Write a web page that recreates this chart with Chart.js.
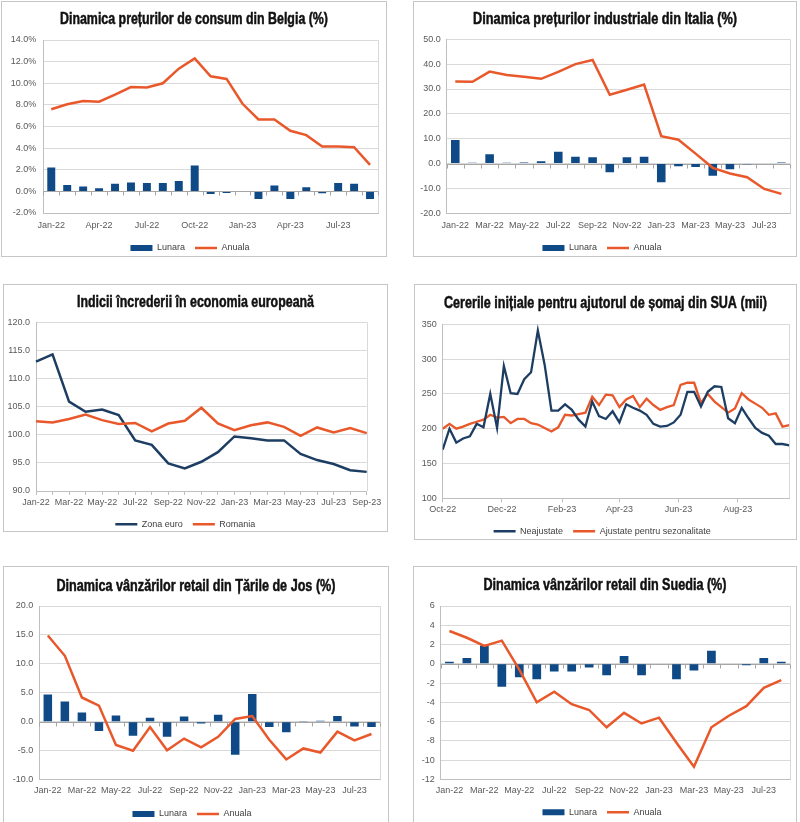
<!DOCTYPE html>
<html><head><meta charset="utf-8">
<script src="https://cdn.jsdelivr.net/npm/chart.js@4.4.0/dist/chart.umd.min.js"></script>
<style>
html,body{margin:0;padding:0;background:#fff;}
body{width:800px;height:822px;position:relative;overflow:hidden;}
.panel{position:absolute;border:1px solid #c6c6c6;box-sizing:border-box;background:#fff;}
.panel canvas{position:absolute;left:0;top:0;}
</style></head><body>
<div class="panel" style="left:1px;top:1px;width:386px;height:256px"><canvas id="c1" width="384" height="254"></canvas></div>
<div class="panel" style="left:413px;top:1px;width:384px;height:256px"><canvas id="c2" width="382" height="254"></canvas></div>
<div class="panel" style="left:3px;top:284px;width:385px;height:248px"><canvas id="c3" width="383" height="246"></canvas></div>
<div class="panel" style="left:414px;top:284px;width:383px;height:256px"><canvas id="c4" width="381" height="254"></canvas></div>
<div class="panel" style="left:3px;top:566px;width:386px;height:258px"><canvas id="c5" width="384" height="256"></canvas></div>
<div class="panel" style="left:413px;top:566px;width:384px;height:258px"><canvas id="c6" width="382" height="256"></canvas></div>
<script>
// ---------- DATA ----------
const monthsJan22Sep23 = ['Jan-22','Feb-22','Mar-22','Apr-22','May-22','Jun-22','Jul-22','Aug-22','Sep-22','Oct-22','Nov-22','Dec-22','Jan-23','Feb-23','Mar-23','Apr-23','May-23','Jun-23','Jul-23','Aug-23','Sep-23'];
const monthsJan22Aug23 = monthsJan22Sep23.slice(0, 20);

// 1. Belgia CPI
const belLunara = [2.2,0.6,0.46,0.3,0.7,0.83,0.77,0.77,0.95,2.4,-0.25,-0.15,0.04,-0.7,0.55,-0.7,0.37,-0.18,0.77,0.7,-0.7];
const belAnuala = [7.6,8.05,8.35,8.3,8.95,9.65,9.6,10.0,11.35,12.3,10.65,10.4,8.1,6.65,6.65,5.6,5.2,4.15,4.15,4.08,2.45];

// 2. Italia PPI
const itaLunara = [9.5,0.3,3.8,0.3,0.4,0.9,4.8,2.7,2.5,-3.5,2.5,2.8,-7.5,-1.1,-1.4,-4.9,-2.3,-0.3,0,0.4];
const itaAnuala = [33.0,32.9,37.0,35.6,34.9,34.1,36.9,40.0,41.7,27.7,29.7,31.8,11.0,9.6,4.0,-1.7,-4.0,-5.5,-10.2,-12.2];

// 3. Incredere
const zonaEuro = [113.0,114.3,105.9,104.1,104.5,103.5,99.0,98.2,94.9,94.0,95.2,96.9,99.7,99.4,99.0,99.0,96.6,95.5,94.8,93.7,93.4];
const romania  = [102.4,102.2,102.8,103.6,102.6,101.9,102.1,100.6,102.0,102.5,104.8,102.0,100.8,101.7,102.2,101.4,99.8,101.3,100.4,101.2,100.3];

// 4. SUA initial claims (weekly)
const claimDates = ['2022-10-01','2022-10-08','2022-10-15','2022-10-22','2022-10-29','2022-11-05','2022-11-12','2022-11-19','2022-11-26',
 '2022-12-03','2022-12-10','2022-12-17','2022-12-24','2022-12-31','2023-01-07','2023-01-14','2023-01-21','2023-01-28',
 '2023-02-04','2023-02-11','2023-02-18','2023-02-25','2023-03-04','2023-03-11','2023-03-18','2023-03-25',
 '2023-04-01','2023-04-08','2023-04-15','2023-04-22','2023-04-29','2023-05-06','2023-05-13','2023-05-20','2023-05-27',
 '2023-06-03','2023-06-10','2023-06-17','2023-06-24','2023-07-01','2023-07-08','2023-07-15','2023-07-22','2023-07-29',
 '2023-08-05','2023-08-12','2023-08-19','2023-08-26','2023-09-02','2023-09-09','2023-09-16','2023-09-23'];
const neajustate = [170,200,180,186,189,207,202,250,201,290,251,250,271,281,341,292,226,226,235,227,213,203,239,218,214,225,
 209,235,230,226,220,207,203,204,209,220,253,253,232,253,261,260,215,208,230,215,201,194,190,178,178,176];
const ajustate = [200,207,200,203,207,210,213,220,216,217,208,214,214,208,206,201,196,202,220,219,221,223,246,234,249,248,
 231,242,247,231,243,234,227,231,234,263,266,266,237,250,239,231,223,229,251,242,236,230,220,222,203,205];
const claimTickDates = ['2022-10-01','2022-12-01','2023-02-01','2023-04-01','2023-06-01','2023-08-01'];
const claimTickLabels = ['Oct-22','Dec-22','Feb-23','Apr-23','Jun-23','Aug-23'];

// 5. Tarile de Jos retail
const nlLunara = [4.7,3.5,1.6,-1.6,1.1,-2.4,0.7,-2.6,0.9,-0.3,1.2,-5.7,4.8,-0.9,-1.8,0.05,0.2,1.0,-0.8,-0.9];
const nlAnuala = [14.9,11.4,4.2,2.8,-4.0,-5.0,-0.9,-4.9,-2.9,-4.4,-2.6,0.5,1.0,-3.1,-6.5,-4.6,-5.3,-1.7,-3.2,-2.1];

// 6. Suedia retail
const seLunara = [0.2,0.6,1.9,-2.4,-1.4,-1.6,-0.8,-0.8,-0.4,-1.2,0.8,-1.2,0.05,-1.6,-0.7,1.35,0.05,-0.15,0.6,0.2];
const seAnuala = [3.4,2.7,1.85,2.4,-0.6,-4.0,-2.9,-4.2,-4.8,-6.6,-5.1,-6.2,-5.6,-8.2,-10.7,-6.6,-5.4,-4.4,-2.5,-1.7];

// ---------- STYLE ----------
const FONT = "'Liberation Sans', Arial, sans-serif";
const TFONT = "bold 16px 'Liberation Sans', Arial, sans-serif";
const BAR = '#0f4a86', ORANGE = '#e9582b', NAVY = '#1d3e62';
const GRID = '#d9d9d9', AXIS = '#bfbfbf', TICKC = '#595959';

// plot frame + zero axis ticks
const framePlugin = {
  id: 'frame',
  beforeDatasetsDraw(chart, args, opts) {
    const {ctx, chartArea: a} = chart;
    ctx.save();
    ctx.lineWidth = 1;
    ctx.strokeStyle = GRID;
    const xr = Math.round(a.right) + 0.5;
    ctx.beginPath(); ctx.moveTo(xr, a.top); ctx.lineTo(xr, a.bottom); ctx.stroke();
    if (opts && opts.zeroTicks) {
      const xs = chart.scales.x, ys = chart.scales.y;
      const y0 = Math.round(ys.getPixelForValue(0)) + 0.5;
      const n = chart.data.labels.length;
      const half = (xs.getPixelForValue(1) - xs.getPixelForValue(0)) / 2;
      ctx.strokeStyle = '#a6a6a6';
      ctx.beginPath();
      ctx.moveTo(a.left, y0); ctx.lineTo(a.right, y0);
      for (let i = 0; i <= n; i++) {
        const px = Math.round(xs.getPixelForValue(i) - half) + 0.5;
        ctx.moveTo(px, y0); ctx.lineTo(px, y0 + 4);
      }
      ctx.stroke();
    }
    ctx.restore();
  }
};
// condensed bold title (horizontally scaled real text)
const titlePlugin = {
  id: 'ctitle',
  afterDraw(chart, args, o) {
    if (!o || !o.text) return;
    const ctx = chart.ctx;
    ctx.save();
    ctx.font = TFONT;
    const w = ctx.measureText(o.text).width;
    const k = o.width / w;
    ctx.translate(chart.width / 2, o.y + 5.7);
    ctx.scale(k, 1);
    ctx.textAlign = 'center';
    ctx.textBaseline = 'alphabetic';
    ctx.fillStyle = '#111';
    ctx.strokeStyle = '#111';
    ctx.lineWidth = 0.5;
    ctx.fillText(o.text, 0, 0);
    ctx.strokeText(o.text, 0, 0);
    ctx.restore();
  }
};

function legendOpts() {
  return {position: 'bottom',
    labels: {usePointStyle: true, pointStyleWidth: 22, boxHeight: 6, padding: 10, color: '#404040',
      font: {family: FONT, size: 9}, sort: (a, b) => a.datasetIndex - b.datasetIndex}};
}
function pluginsFor(L, text, zero) {
  return {title: {display: false}, legend: legendOpts(), tooltip: {enabled: false},
    frame: {zeroTicks: !!zero}, ctitle: {text, width: L.tw, y: L.ty}};
}
function yAxis(L, min, max, step, fmt) {
  return {min, max, ticks: {stepSize: step, callback: fmt, color: TICKC, font: {family: FONT, size: 9}, padding: L.ypad},
    grid: {color: GRID, drawTicks: false},
    border: {display: true, color: AXIS},
    afterFit(s) { s.width = L.plotLeft; }};
}
function catX(L, labels, step, offset, tickLen) {
  return {type: 'category', offset,
    ticks: {autoSkip: false, maxRotation: 0, minRotation: 0, color: TICKC, font: {family: FONT, size: 9}, padding: L.xpad,
      callback: (v, i) => (i % step === 0 ? labels[i] : '')},
    grid: {display: tickLen > 0, drawOnChartArea: false, drawTicks: tickLen > 0, tickLength: tickLen, color: AXIS},
    border: {display: true, color: AXIS},
    afterFit(s) { s.height = L.xh; }};
}
function lineDs(label, data, color, extra) {
  return Object.assign({type: 'line', label, data, borderColor: color, backgroundColor: color, borderWidth: 2.5,
    pointRadius: 0, pointHoverRadius: 0, pointStyle: 'line', pointBorderColor: color, pointBorderWidth: 2.5,
    tension: 0, order: 0}, extra || {});
}
function barDs(label, data) {
  return {type: 'bar', label, data, backgroundColor: BAR, borderWidth: 0, pointStyle: 'rect',
    barPercentage: 0.5, categoryPercentage: 1.0, order: 1};
}
function barLineChart(id, L, title, labels, step, bars, line, ymin, ymax, ystep, fmt) {
  new Chart(document.getElementById(id), {
    type: 'bar',
    data: {labels, datasets: [barDs('Lunara', bars), lineDs('Anuala', line, ORANGE)]},
    options: {
      responsive: false, animation: false, events: [],
      layout: {padding: {left: 0, right: L.padRight, top: L.plotTop, bottom: L.pb}},
      plugins: pluginsFor(L, title, true),
      scales: {x: catX(L, labels, step, true, 0), y: yAxis(L, ymin, ymax, ystep, fmt)}
    },
    plugins: [framePlugin, titlePlugin]
  });
}
const f1 = v => v.toFixed(1);
const f1p = v => v.toFixed(1) + '%';
const f0 = v => String(v);

// ---------- CHARTS ----------
barLineChart('c1', {plotLeft: 41.3, plotTop: 38, padRight: 8, pb: -6.5, xh: 20.5, tw: 268, ty: 16.3, ypad: 7, xpad: 7.6},
  'Dinamica prețurilor de consum din Belgia (%)', monthsJan22Sep23, 3, belLunara, belAnuala, -2, 14, 2, f1p);

barLineChart('c2', {plotLeft: 32.7, plotTop: 37.3, padRight: 6, pb: -6.5, xh: 20.2, tw: 264, ty: 16.3, ypad: 6, xpad: 7.3},
  'Dinamica prețurilor industriale din Italia (%)', monthsJan22Aug23, 2, itaLunara, itaAnuala, -20, 50, 10, f1);

(function () {
  const L = {plotLeft: 32, plotTop: 37.3, padRight: 20.3, pb: -7.8, xh: 18.8, tw: 237, ty: 15.8, ypad: 6, xpad: 2.3};
  new Chart(document.getElementById('c3'), {
    type: 'line',
    data: {labels: monthsJan22Sep23, datasets: [
      lineDs('Zona euro', zonaEuro, NAVY, {order: 1}), lineDs('Romania', romania, ORANGE, {order: 0})]},
    options: {
      responsive: false, animation: false, events: [],
      layout: {padding: {left: 0, right: L.padRight, top: L.plotTop, bottom: L.pb}},
      plugins: pluginsFor(L, 'Indicii încrederii în economia europeană', false),
      scales: {x: catX(L, monthsJan22Sep23, 2, false, 4), y: yAxis(L, 90, 120, 5, f1)}
    },
    plugins: [framePlugin, titlePlugin]
  });
})();

(function () {
  const L = {plotLeft: 27.7, plotTop: 39.3, padRight: 6.7, pb: -6.8, xh: 18.5, tw: 323, ty: 17, ypad: 6, xpad: 1.6};
  const t0 = Date.UTC(2022, 9, 1);
  const toDay = s => { const p = s.split('-').map(Number); return Math.round((Date.UTC(p[0], p[1] - 1, p[2]) - t0) / 86400000); };
  const days = claimDates.map(toDay);
  const tickDays = claimTickDates.map(toDay);
  const labelOf = {};
  tickDays.forEach((d, i) => { labelOf[d] = claimTickLabels[i]; });
  new Chart(document.getElementById('c4'), {
    type: 'line',
    data: {datasets: [
      lineDs('Neajustate', days.map((d, i) => ({x: d, y: neajustate[i]})), NAVY, {order: 0, borderWidth: 2.3}),
      lineDs('Ajustate pentru sezonalitate', days.map((d, i) => ({x: d, y: ajustate[i]})), ORANGE, {order: 1, borderWidth: 2.3})]},
    options: {
      responsive: false, animation: false, events: [],
      layout: {padding: {left: 0, right: L.padRight, top: L.plotTop, bottom: L.pb}},
      plugins: pluginsFor(L, 'Cererile inițiale pentru ajutorul de șomaj din SUA (mii)', false),
      scales: {
        x: {type: 'linear', min: days[0], max: days[days.length - 1],
          afterBuildTicks(s) { s.ticks = tickDays.map(v => ({value: v})); },
          ticks: {autoSkip: false, maxRotation: 0, color: TICKC, font: {family: FONT, size: 9}, padding: L.xpad,
            callback: v => labelOf[v] || ''},
          grid: {drawOnChartArea: false, drawTicks: true, tickLength: 4, color: AXIS},
          border: {display: true, color: AXIS},
          afterFit(s) { s.height = L.xh; }},
        y: yAxis(L, 100, 350, 50, f0)
      }
    },
    plugins: [framePlugin, titlePlugin]
  });
})();

barLineChart('c5', {plotLeft: 35.3, plotTop: 39, padRight: 8, pb: -5.5, xh: 19.8, tw: 279, ty: 18, ypad: 6, xpad: 5.6},
  'Dinamica vânzărilor retail din Țările de Jos (%)', monthsJan22Aug23, 2, nlLunara, nlAnuala, -10, 20, 5, f1);

barLineChart('c6', {plotLeft: 26.7, plotTop: 39, padRight: 6, pb: -3.8, xh: 18.5, tw: 243, ty: 17.7, ypad: 6, xpad: 6.3},
  'Dinamica vânzărilor retail din Suedia (%)', monthsJan22Aug23, 2, seLunara, seAnuala, -12, 6, 2, f0);
</script>
</body></html>
